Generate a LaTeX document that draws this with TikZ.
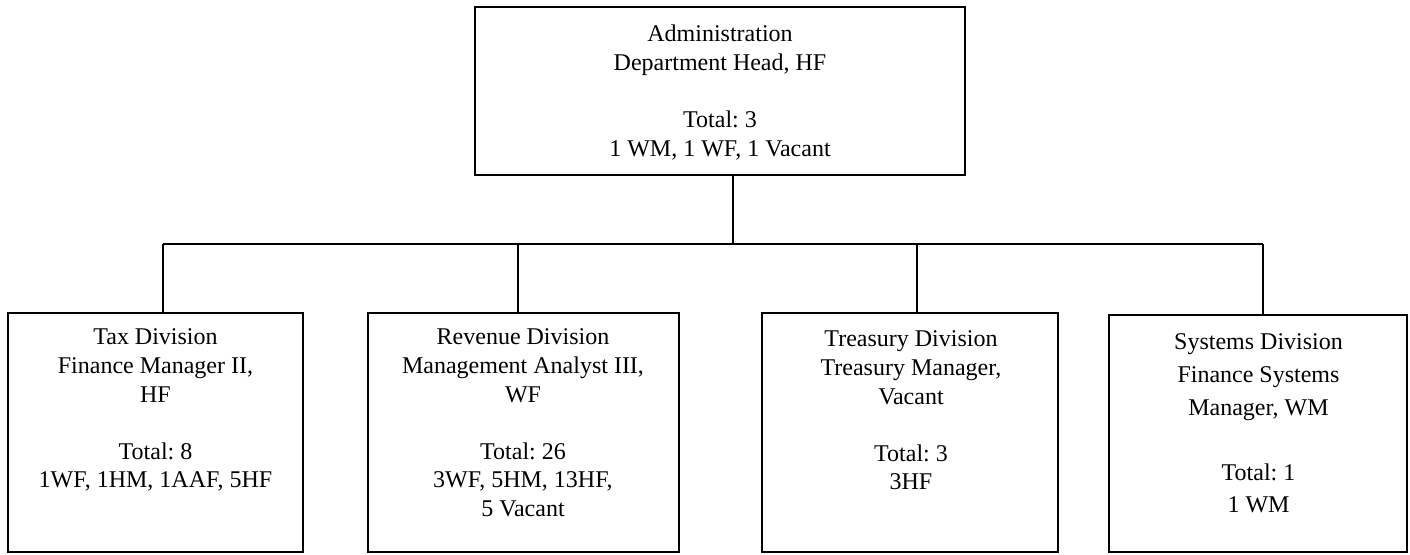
\documentclass[tikz,border=0pt]{standalone}
\usepackage{fontspec}
\setmainfont{Liberation Serif}
\frenchspacing
\begin{document}
\begin{tikzpicture}[x=0.5pt,y=-0.5pt,
  box/.style={draw, line width=0.9pt, inner sep=0pt},
  txt/.style={align=center, inner sep=0pt, anchor=north, font=\fontsize{12}{14.3}\selectfont},
  txtwide/.style={align=center, inner sep=0pt, anchor=north, font=\fontsize{12}{16.3}\selectfont},
  conn/.style={line width=0.7pt}]
\useasboundingbox (0,0) rectangle (1410,555);
% boxes
\node[box, minimum width=245pt, minimum height=84pt] (admin) at (720,91) {};
\node[box, minimum width=147.5pt, minimum height=119.5pt] (tax) at (155.5,432.5) {};
\node[box, minimum width=155.5pt, minimum height=119.5pt] (rev) at (523.5,432.5) {};
\node[box, minimum width=148pt, minimum height=119.5pt] (tre) at (910,432.5) {};
\node[box, minimum width=149pt, minimum height=118.5pt] (sys) at (1258,433.5) {};
% texts
\node[txt] (admint) at (720,24.6) {Administration\\Department Head, HF\\[14.5pt]Total: 3\\1 WM, 1 WF, 1 Vacant};
\node[txt] (taxt) at (155.5,328.6) {Tax Division\\Finance Manager II,\\HF\\[14.3pt]Total: 8\\1WF, 1HM, 1AAF, 5HF};
\node[txt] (revt) at (523,328.6) {Revenue Division\\Management Analyst III,\\WF\\[14.3pt]Total: 26\\3WF, 5HM, 13HF,\\5 Vacant};
\node[txt] (tret) at (911,330.6) {Treasury Division\\Treasury Manager,\\Vacant\\[14.3pt]Total: 3\\3HF};
\node[txtwide] (syst) at (1258.5,333.6) {Systems Division\\Finance Systems\\Manager, WM\\[16.3pt]Total: 1\\1 WM};
% bus coordinates
\coordinate (jc) at (733,244);
\coordinate (jt) at (163,244);
\coordinate (jr) at (518,244);
\coordinate (jy) at (917,244);
\coordinate (js) at (1263,244);
% connectors
\draw[conn] (jc |- admin.south) -- (jc);
\draw[conn] (jt) -- (js);
\draw[conn] (jt) -- (jt |- tax.north);
\draw[conn] (jr) -- (jr |- rev.north);
\draw[conn] (jy) -- (jy |- tre.north);
\draw[conn] (js) -- (js |- sys.north);
\end{tikzpicture}
\end{document}
